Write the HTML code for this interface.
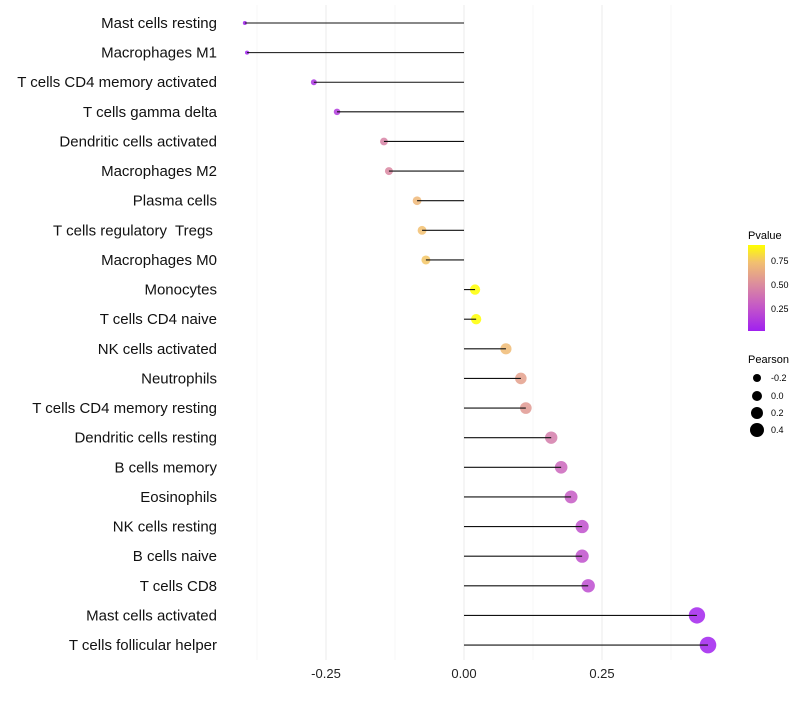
<!DOCTYPE html>
<html><head><meta charset="utf-8"><style>
body{margin:0;background:#fff;font-family:"Liberation Sans",sans-serif}
svg text{font-family:"Liberation Sans",sans-serif;white-space:pre}
</style></head><body>
<svg id="chart" width="800" height="700" xmlns="http://www.w3.org/2000/svg">
<g id="grid"></g>
<g id="pts"></g>
<g id="segs"></g>
<g id="ylab"></g>
<g id="xlab"></g>
<g>
<defs><linearGradient id="pg" x1="0" y1="1" x2="0" y2="0">
<stop offset="0" stop-color="#A020F0"/><stop offset="0.28" stop-color="#C457C8"/><stop offset="0.55" stop-color="#DC8E9C"/><stop offset="0.8" stop-color="#F2C070"/><stop offset="1" stop-color="#FFFF00"/></linearGradient></defs>
<text x="748" y="239" font-size="11" fill="#000">Pvalue</text>
<rect x="748" y="245" width="17" height="86" fill="url(#pg)"/>
<text x="771" y="264" font-size="9">0.75</text>
<text x="771" y="288" font-size="9">0.50</text>
<text x="771" y="312" font-size="9">0.25</text>
</g>
<g>
<text x="748" y="363" font-size="11">Pearson</text>
<circle cx="757" cy="378" r="4"/><text x="771" y="381" font-size="9">-0.2</text>
<circle cx="757" cy="396" r="5"/><text x="771" y="399" font-size="9">0.0</text>
<circle cx="757" cy="413" r="6"/><text x="771" y="416" font-size="9">0.2</text>
<circle cx="757" cy="430" r="7"/><text x="771" y="433" font-size="9">0.4</text>
</g>
</svg>
<script>
const categories=["Mast cells resting","Macrophages M1","T cells CD4 memory activated","T cells gamma delta","Dendritic cells activated","Macrophages M2","Plasma cells","T cells regulatory  Tregs ","Macrophages M0","Monocytes","T cells CD4 naive","NK cells activated","Neutrophils","T cells CD4 memory resting","Dendritic cells resting","B cells memory","Eosinophils","NK cells resting","B cells naive","T cells CD8","Mast cells activated","T cells follicular helper"];
const pearson=[-0.397,-0.393,-0.272,-0.230,-0.145,-0.136,-0.085,-0.076,-0.069,0.020,0.022,0.076,0.103,0.112,0.158,0.176,0.194,0.214,0.214,0.225,0.422,0.442];
const pvalue=[0.01,0.01,0.08,0.12,0.45,0.47,0.68,0.72,0.74,0.92,0.93,0.70,0.58,0.55,0.42,0.32,0.27,0.22,0.22,0.2,0.02,0.01];
const ticks=[-0.25,0,0.25];
const tickLabels=["-0.25","0.00","0.25"];
const NS="http://www.w3.org/2000/svg";
const x=v=>464+v*552;
const y=i=>23+i*29.62;
const stops=[[0,[160,32,240]],[0.25,[196,87,200]],[0.5,[220,142,156]],[0.72,[242,192,112]],[0.92,[255,255,0]]];
function col(p){for(let k=1;k<stops.length;k++){if(p<=stops[k][0]||k==stops.length-1){const a=stops[k-1],b=stops[k];let t=(p-a[0])/(b[0]-a[0]);t=Math.max(0,Math.min(1,t));return `rgb(${a[1].map((c,j)=>Math.round(c+(b[1][j]-c)*t)).join(',')})`;}}}
function mk(t,at,p){const e=document.createElementNS(NS,t);for(const k in at)e.setAttribute(k,at[k]);p.appendChild(e);return e;}
const grid=document.getElementById('grid');
[-0.375,-0.25,-0.125,0,0.125,0.25,0.375].forEach(v=>{const l=mk('line',{x1:x(v),x2:x(v),y1:5,y2:660,stroke:Math.abs(v*8)%2==1?'#f2f2f2':'#ebebeb','stroke-width':Math.abs(v*8)%2==1?0.6:1},grid);

});
categories.forEach((c,i)=>{
const pt=mk('circle',{cx:x(pearson[i]),cy:y(i),r:Math.max(2,2+(pearson[i]+0.4)*7.5),fill:col(pvalue[i]),'fill-opacity':0.85},document.getElementById('pts'));


const s=mk('line',{x1:x(0),x2:x(pearson[i]),y1:y(i),y2:y(i),stroke:'#111','stroke-width':1.1},document.getElementById('segs'));


const t=mk('text',{x:217,y:y(i)+5,'text-anchor':'end','font-size':15,fill:'#111'},document.getElementById('ylab'));
t.textContent=c;


});
ticks.forEach((v,i)=>{const t=mk('text',{x:x(v),y:678,'text-anchor':'middle','font-size':13,fill:'#222'},document.getElementById('xlab'));t.textContent=tickLabels[i];

});
</script>
</body></html>
